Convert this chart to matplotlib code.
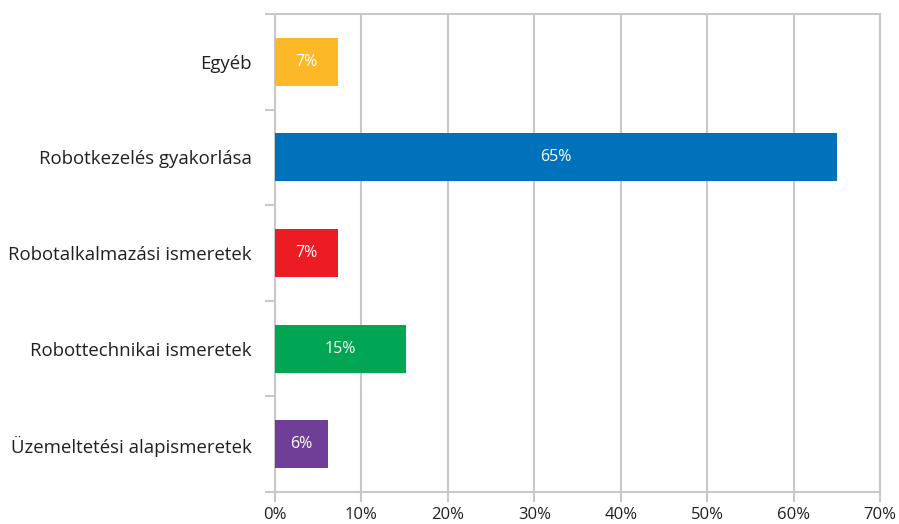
import matplotlib.pyplot as plt
import numpy as np

categories = ['Üzemeltetési alapismeretek', 'Robottechnikai ismeretek',
              'Robotalkalmazási ismeretek', 'Robotkezelés gyakorlása', 'Egyéb']
values = [6.1, 15.2, 7.3, 65.0, 7.3]
colors = ['#6F3F98', '#00A652', '#ED1C24', '#0072BC', '#FDB827']
xticks = [0, 10, 20, 30, 40, 50, 60, 70]

plt.rcParams['font.family'] = ['Open Sans', 'DejaVu Sans']
grid_c = '#C8C8C8'

fig = plt.figure(figsize=(8.99, 5.24), dpi=100)
ax = fig.add_axes([275 / 899, 1 - 492 / 524, 605 / 899, 478 / 524])

y = np.arange(len(categories))
ax.barh(y, values, height=0.5, color=colors, zorder=3)
for yi, v in zip(y, values):
    ax.text(v / 2, yi, f'{v:.0f}%', ha='center', va='center',
            color='white', fontsize=11.5, zorder=4)

ax.set_xlim(0, 70)
ax.set_ylim(-0.5, len(categories) - 0.5)
ax.set_xticks(xticks)
ax.set_xticklabels([f'{t}%' for t in xticks], fontsize=12, color='#231F20')
ax.set_yticks(y)
ax.set_yticklabels(categories, fontsize=13.4, color='#231F20')
ax.set_yticks(np.arange(-0.5, len(categories)), minor=True)
ax.tick_params(axis='y', which='major', length=0, pad=16.5)
ax.tick_params(axis='y', which='minor', length=7, color=grid_c, width=1.5)
ax.tick_params(axis='x', length=7, color=grid_c, width=1.5, pad=4)
ax.grid(axis='x', color=grid_c, linewidth=1.5, zorder=0)
for s in ax.spines.values():
    s.set_color(grid_c)
    s.set_linewidth(1.5)

fig.savefig('out.png', dpi=100)
